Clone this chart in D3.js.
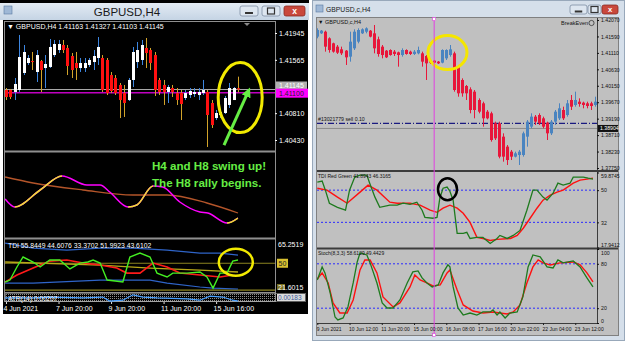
<!DOCTYPE html>
<html>
<head>
<meta charset="utf-8">
<script src="https://cdn.jsdelivr.net/npm/d3@7"></script>
<style>
  body { margin: 0; background: #fff; }
  svg { display: block; font-family: "Liberation Sans", Arial, sans-serif; }
</style>
</head>
<body>
<svg id="chart" width="625" height="341"></svg>
<script>
// ---------- left chart (GBPUSD,H4 black) ----------
// [open, high, low, close]
const leftOHLC = [
  [1.41138,1.41166,1.40996,1.41039],[1.41138,1.41152,1.41010,1.41039],[1.41110,1.41308,1.40996,1.41223],
  [1.41138,1.41917,1.41110,1.41605],[1.41379,1.41775,1.41350,1.41676],[1.41520,1.41633,1.41492,1.41591],
  [1.41548,1.41676,1.41421,1.41534],[1.41393,1.41704,1.41251,1.41633],[1.41548,1.41563,1.41110,1.41421],
  [1.41449,1.41633,1.41166,1.41506],[1.41464,1.41860,1.41449,1.41747],[1.41633,1.41846,1.41605,1.41789],
  [1.41704,1.41846,1.41662,1.41789],[1.41775,1.41846,1.41662,1.41704],[1.41733,1.41775,1.41350,1.41478],
  [1.41619,1.41662,1.41308,1.41421],[1.41520,1.41676,1.41280,1.41449],[1.41449,1.41591,1.41393,1.41520],
  [1.41449,1.41591,1.41393,1.41520],[1.41492,1.41591,1.41464,1.41563],[1.41534,1.41704,1.41421,1.41619],
  [1.41591,1.41888,1.41492,1.41747],[1.41591,1.41633,1.41110,1.41138],[1.41563,1.41591,1.41067,1.41095],
  [1.41350,1.41393,1.41095,1.41124],[1.41308,1.41350,1.41067,1.41095],[1.41209,1.41237,1.40741,1.40996],
  [1.41095,1.41209,1.40756,1.40954],[1.40996,1.41308,1.40982,1.41280],[1.41280,1.41747,1.41180,1.41676],
  [1.41534,1.41818,1.41449,1.41704],[1.41563,1.41846,1.41492,1.41775],[1.41733,1.41874,1.41449,1.41662],
  [1.41704,1.41733,1.41421,1.41520],[1.41633,1.41676,1.41053,1.41138],[1.41280,1.41308,1.41067,1.41110],
  [1.41209,1.41280,1.40926,1.41110],[1.41110,1.41209,1.40954,1.41180],[1.41166,1.41209,1.41039,1.41110],
  [1.41095,1.41166,1.40926,1.40996],[1.41095,1.41138,1.40713,1.40940],[1.41025,1.41138,1.40996,1.41095],
  [1.41067,1.41166,1.41025,1.41124],[1.41081,1.41166,1.41039,1.41110],[1.41067,1.41166,1.40996,1.41110],
  [1.41095,1.41280,1.41067,1.41138],[1.41110,1.41138,1.40331,1.40784],[1.40954,1.40996,1.40600,1.40642],
  [1.40741,1.40855,1.40713,1.40812],[1.40784,1.40855,1.40741,1.40826],[1.40812,1.41053,1.40798,1.41025],
  [1.40926,1.41237,1.40883,1.41166],[1.40996,1.41180,1.40996,1.41166],[1.41163,1.41327,1.41103,1.41145]
];
const leftPriceTicks = [1.41945, 1.41565, 1.40810, 1.40430];
const leftBid = 1.41145;
const leftLevel = 1.41100;
const leftDateIdx = [0, 12, 24, 36, 48];
const leftDateText = ["4 Jun 2021", "7 Jun 20:00", "9 Jun 20:00", "11 Jun 20:00", "15 Jun 16:00"];

// swing oscillator pane: [bar index, value]
const leftFast = [[-0.2,-4],[2,-12],[7.8,5],[12.8,19],[18.5,10],[21.5,10],[23.7,3],[27.9,-12],[29.9,-10],
  [33.6,9],[35.8,8],[39.7,-7],[44.3,-17],[46.1,-18],[50.5,-28],[53,-23]];
const leftSlow = [[-0.2,18],[6.2,12],[17.6,5],[29,0],[36.8,0],[45.9,-8],[53,-18]];

// TDI pane
const leftTdiUpper = [[-0.2,61.3],[6.2,58.5],[13.9,57.4],[21.5,58.5],[29,58.5],[36.8,57.4],[44.3,55.7],[48.9,55.7],[53,54.6]];
const leftTdiLower = [[-0.2,38.9],[6.2,38.9],[21.5,40.6],[32.9,40.6],[36.8,38.9],[44.3,36.7],[47.3,36.1],[53,35.6]];
const leftTdiMid = [[-0.2,50.7],[21.5,49.0],[32.9,47.3],[44.3,46.2],[53,45.1]];
const leftTdiSignal = [[-0.2,39.5],[2.5,43.4],[6.2,47.3],[10,51.2],[13.9,51.8],[17.6,50.1],[21.5,49.0],[25.3,47.3],
  [27.6,44.5],[30.6,44.5],[33.6,50.1],[36.8,47.9],[39.7,44.5],[44.3,43.4],[48.9,42.3],[51.8,43.4]];
const leftTdiRsi = [[-0.2,39.5],[0.9,40.6],[2.5,47.9],[3.9,53.5],[6.2,50.7],[7.8,47.9],[10,51.8],[12.3,51.8],
  [14.6,46.8],[16.9,50.1],[18.7,50.7],[19.9,51.8],[21.5,50.1],[23.1,40.6],[26.7,39.5],[28.3,53.5],[30.6,55.7],
  [32.9,53.5],[34.5,44.5],[36.8,42.3],[38.1,44.5],[41.3,44.5],[44.3,45.1],[45.9,42.3],[47.3,36.1],[48.9,44.5],
  [50.5,44.5],[51.8,51.2],[53,51.8]];
const leftTdiLevels = [50, 35];
const leftAtr = [[-0.2,0.0024],[6.2,0.0024],[10,0.0026],[17.6,0.0024],[22.1,0.0026],[23.7,0.0017],[26.7,0.0019],
  [29,0.0031],[31.3,0.0026],[34.5,0.0024],[41.3,0.0022],[44.3,0.0019],[46.6,0.0028],[49.5,0.0026],[51.8,0.0019],[53,0.0017]];

// ---------- right chart (GBPUSD,c,H4 grey) ----------
const rightOHLC = [
  [1.41584,1.41827,1.41535,1.41778],[1.41681,1.41778,1.41662,1.41759],[1.41729,1.41759,1.41146,1.41292],
  [1.41535,1.41564,1.41116,1.41194],[1.41389,1.41408,1.41116,1.41146],[1.41292,1.41340,1.41078,1.41116],
  [1.41214,1.41292,1.41048,1.41097],[1.41175,1.41194,1.40757,1.40980],[1.41000,1.41729,1.40854,1.41438],
  [1.41243,1.41798,1.41194,1.41729],[1.41438,1.41827,1.41389,1.41778],[1.41681,1.41827,1.41662,1.41798],
  [1.41729,1.41856,1.41681,1.41827],[1.41759,1.41778,1.41564,1.41584],[1.41681,1.41924,1.41097,1.41243],
  [1.41506,1.41584,1.41000,1.41078],[1.41292,1.41340,1.40951,1.41048],[1.41175,1.41194,1.40960,1.40980],
  [1.41194,1.41214,1.41030,1.41048],[1.41146,1.41194,1.41019,1.41078],[1.41126,1.41146,1.40708,1.41048],
  [1.41048,1.41243,1.41000,1.41194],[1.41194,1.41214,1.41058,1.41078],[1.41146,1.41175,1.41048,1.41078],
  [1.41078,1.41194,1.41048,1.41146],[1.41097,1.41292,1.41068,1.41194],[1.41097,1.41146,1.40708,1.40854],
  [1.41019,1.41048,1.40319,1.40805],[1.40902,1.40922,1.40786,1.40825],[1.40883,1.40902,1.40815,1.40825],
  [1.40854,1.40873,1.40786,1.40805],[1.40825,1.41214,1.40805,1.41194],[1.40951,1.41214,1.40902,1.41194],
  [1.41048,1.41340,1.41000,1.41214],[1.41097,1.41146,1.39978,1.40027],[1.40708,1.40757,1.39832,1.39930],
  [1.40319,1.40367,1.39832,1.39930],[1.40144,1.40173,1.39735,1.39930],[1.40046,1.40105,1.39346,1.39443],
  [1.39978,1.40027,1.39200,1.39443],[1.39735,1.39783,1.39346,1.39394],[1.39638,1.39686,1.38957,1.39200],
  [1.39394,1.39443,1.39170,1.39200],[1.39346,1.39394,1.38519,1.38567],[1.39054,1.39103,1.38567,1.38616],
  [1.39054,1.39103,1.38032,1.38081],[1.38665,1.38762,1.37935,1.38081],[1.38373,1.38421,1.37838,1.37983],
  [1.38227,1.38276,1.37983,1.38081],[1.38081,1.38227,1.38060,1.38178],[1.38129,1.38276,1.37838,1.38227],
  [1.38129,1.38811,1.38081,1.38762],[1.38665,1.39151,1.38373,1.39103],[1.38957,1.39346,1.38908,1.39249],
  [1.39249,1.39297,1.39005,1.39103],[1.39297,1.39346,1.39005,1.39054],[1.39200,1.39249,1.38908,1.38957],
  [1.39073,1.39103,1.38567,1.38762],[1.38762,1.39151,1.38713,1.39103],[1.39103,1.39443,1.39005,1.39394],
  [1.39200,1.39638,1.39151,1.39492],[1.39443,1.39540,1.39151,1.39200],[1.39297,1.39735,1.39249,1.39638],
  [1.39735,1.39881,1.39443,1.39540],[1.39589,1.39978,1.39540,1.39735],[1.39686,1.39783,1.39540,1.39618],
  [1.39657,1.39686,1.39492,1.39589],[1.39638,1.39686,1.39492,1.39560],[1.39638,1.39686,1.39443,1.39560],
  [1.39589,1.39832,1.39540,1.39686]
];
const rightPriceTicks = [1.42070, 1.41590, 1.41110, 1.40630, 1.40150, 1.39670, 1.39190, 1.38710, 1.38230, 1.37750];
const rightBid = 1.38904;
const rightOrder = 1.39055;
const rightMarkerBar = 29;
const rightDateIdx = [0, 8, 16, 24, 32, 40, 48, 56, 64];
const rightDateText = ["9 Jun 2021", "10 Jun 12:00", "11 Jun 20:00", "15 Jun 00:00", "16 Jun 08:00",
  "17 Jun 16:00", "20 Jun 22:00", "22 Jun 04:00", "23 Jun 12:00"];

const rightTdiGreen = [[0,54.5],[1.2,55.1],[2,50],[3,42.7],[5,40.4],[7,38.8],[8,50],[9.3,57.3],[10.6,58.4],
  [12.3,58.4],[13,53.9],[14.3,46.1],[15.5,40.4],[18,41.6],[19.8,41.6],[21.3,42.7],[23,42.1],[24.7,43.3],
  [26,38.8],[26.7,34.8],[28.7,34.3],[29.7,34.8],[30.4,45.5],[31.2,51.1],[32.2,51.7],[32.9,49.4],[33.7,44.4],
  [34.7,25.8],[36.2,25.8],[37.1,26.4],[37.9,23.0],[39.6,23.6],[41.1,23.6],[42.9,20.2],[44.6,23.0],[45.3,24.7],
  [47.1,23.0],[48.6,24.7],[50.3,27.5],[52,38.8],[53.5,50],[54.5,50],[56,46.1],[57,44.4],[58.5,48.3],
  [59.7,53.9],[61,52.8],[62.7,53.9],[63.5,57.3],[66,57.3],[67.2,56.7],[68.4,56.2]];
const rightTdiRed = [[0,51.1],[2.4,50],[5,46.1],[7.4,42.7],[10.6,48.9],[12.6,52.8],[14.8,50],[18,43.3],
  [19.8,42.7],[23,42.7],[25.5,41.6],[28,38.8],[29.7,37.6],[31.2,39.9],[32.9,41.6],[34.7,39.9],[36.2,37.1],
  [37.9,32],[39.6,23.6],[41.1,23.0],[42.9,21.9],[44.6,22.5],[47.9,23.0],[49.6,24.7],[51.1,28.7],[52.8,34.3],
  [54.5,39.9],[56,44.4],[57.8,47.2],[59.5,48.9],[61,50],[63.5,53.9],[65.2,55.6],[66.9,56.2],[68.4,56.7]];
const rightTdiLevels = [50, 32];
const rightTdiTicks = [59.8745, 50, 32, 17.9412];
const rightTdiLabels = ["59.8745", "50", "32", "17.9412"];

const rightStochMain = [[0,58.2],[1.2,75.8],[1.9,67.7],[3.2,40.6],[4.4,8.1],[5.1,4.1],[6.4,6.8],[7.6,21.7],
  [8.9,54.1],[9.9,82.5],[10.6,94.7],[12.3,92],[13.1,81.2],[14.8,54.1],[16.1,27.1],[17.3,20.3],[18.8,20.3],
  [20.5,31.1],[22.3,54.1],[23.7,69],[25,70.4],[26,60.9],[27.2,54.1],[28.5,48.7],[30,51.4],[31.2,67.7],
  [32.4,78.5],[32.9,75.8],[33.7,48.7],[34.9,20.3],[36.2,10.8],[37.9,13.5],[39.6,10.8],[41.1,14.9],[42.9,14.9],
  [43.6,17.6],[44.6,10.8],[45.3,14.9],[46.6,6.8],[47.8,13.5],[49.6,14.9],[51,35.2],[52.3,75.8],[53.5,92],
  [55.3,89.3],[57,75.8],[58.5,74.4],[59.7,85.2],[61,81.2],[63.5,83.9],[65.2,75.8],[66.9,60.9],[68.4,48.7]];
const rightStochSignal = [[0,59.5],[1.2,67.7],[2.7,54.1],[3.9,27.1],[5.6,13.5],[7.4,13.5],[8.9,31.1],
  [10.6,71.7],[11.8,85.2],[13.1,85.2],[14.8,67.7],[16.3,35.2],[18.8,21.7],[20.5,27.1],[23,48.7],[24.2,65],
  [25.5,58.2],[27.2,54.1],[28.7,50.1],[30.5,51.4],[32.2,67.7],[32.9,71.7],[34.7,44.7],[36.2,24.4],
  [38.6,16.2],[41.1,13.5],[43.6,14.9],[45.3,13.5],[47.1,12.2],[48.6,14.9],[50.3,24.4],[52,54.1],[53.5,75.8],
  [54.8,85.2],[56,81.2],[57.8,78.5],[60.2,81.2],[63.5,82.5],[65.2,78.5],[66.9,67.7],[68.4,55.5]];
const rightStochLevels = [80, 20];
const rightStochTicks = [100, 80, 20, 0];

// ---------- drawing ----------
const svg = d3.select("#chart");
const fontSmall = "'Liberation Sans', Arial, sans-serif";

const defs = svg.append("defs");
const tg = defs.append("linearGradient").attr("id", "titleGrad").attr("x1", 0).attr("y1", 0).attr("x2", 0).attr("y2", 1);
tg.append("stop").attr("offset", "0%").attr("stop-color", "#e3ebf4");
tg.append("stop").attr("offset", "100%").attr("stop-color", "#c5d4e4");
const dots = defs.append("pattern").attr("id", "dots").attr("width", 2).attr("height", 2).attr("patternUnits", "userSpaceOnUse");
dots.append("rect").attr("width", 1).attr("height", 1).attr("fill", "#8a8a8a");

function clip(id, x, y, w, h) {
  defs.append("clipPath").attr("id", id).append("rect").attr("x", x).attr("y", y).attr("width", w).attr("height", h);
  return "url(#" + id + ")";
}

function windowButtons(g, x, y, sizes) {
  let cx = x;
  sizes.w.forEach((w, k) => {
    g.append("rect").attr("x", cx).attr("y", y).attr("width", w).attr("height", sizes.h).attr("rx", 2)
      .attr("fill", k === 2 ? "#c9483c" : "#dde6f0").attr("stroke", k === 2 ? "#8a2a22" : "#7d8ea3").attr("stroke-width", 0.8);
    const mx = cx + w / 2, my = y + sizes.h / 2;
    if (k === 0) g.append("rect").attr("x", mx - w * 0.22).attr("y", my + 1).attr("width", w * 0.44).attr("height", 2).attr("fill", "#333");
    if (k === 1) g.append("rect").attr("x", mx - 3.5).attr("y", my - 3).attr("width", 7).attr("height", 6).attr("fill", "none").attr("stroke", "#333").attr("stroke-width", 1.2);
    if (k === 2) g.append("text").attr("x", mx).attr("y", my + sizes.h * 0.32).attr("text-anchor", "middle")
      .attr("fill", "#fff").attr("font-weight", "bold").attr("font-size", sizes.h * 0.85).text("x");
    cx += w + sizes.gap;
  });
}

function drawCandles(g, data, x, y, st) {
  const c = g.selectAll(null).data(data).join("g");
  c.append("line")
    .attr("x1", (d, i) => Math.round(x(i)) + 0.5).attr("x2", (d, i) => Math.round(x(i)) + 0.5)
    .attr("y1", d => y(d[1])).attr("y2", d => y(d[2]))
    .attr("stroke", d => d[3] >= d[0] ? st.bullWick : st.bearWick).attr("stroke-width", 1);
  c.append("rect")
    .attr("x", (d, i) => Math.round(x(i)) - 1).attr("width", 3)
    .attr("y", d => y(Math.max(d[0], d[3])))
    .attr("height", d => Math.max(1, Math.abs(y(d[0]) - y(d[3]))))
    .attr("fill", d => d[3] >= d[0] ? st.bull : st.bear);
}

function linePath(g, data, x, y, color, width, curve) {
  g.append("path").datum(data)
    .attr("d", d3.line().x(d => x(d[0])).y(d => y(d[1])).curve(curve || d3.curveLinear))
    .attr("fill", "none").attr("stroke", color).attr("stroke-width", width || 1.2);
}

function valueAxis(g, scale, ticks, fmt, color, size) {
  g.call(d3.axisRight(scale).tickValues(ticks).tickFormat(fmt).tickSize(2).tickPadding(2));
  g.select(".domain").remove();
  g.selectAll("line").attr("stroke", color);
  g.selectAll("text").attr("fill", color).style("font-size", size + "px").style("font-family", fontSmall);
  return g;
}

// ===== LEFT WINDOW =====
const L = svg.append("g");
L.append("rect").attr("x", 0).attr("y", 0).attr("width", 309).attr("height", 3).attr("fill", "#000");
L.append("rect").attr("x", 0).attr("y", 3).attr("width", 309).attr("height", 17).attr("fill", "url(#titleGrad)");
L.append("rect").attr("x", 4).attr("y", 6).attr("width", 8).attr("height", 8).attr("fill", "#9fb8d6").attr("stroke", "#5a7aa0").attr("stroke-width", 0.6);
L.append("text").attr("x", 127).attr("y", 15.5).attr("text-anchor", "middle").attr("font-size", 11.5).attr("fill", "#1a1a1a").text("GBPUSD,H4");
windowButtons(L, 240, 6, { w: [18, 18, 21], h: 10, gap: 4 });
L.append("rect").attr("x", 3).attr("y", 20).attr("width", 305).attr("height", 294).attr("fill", "#000");

const lx = d3.scaleLinear().domain([0, 53]).range([6, 238]);
const ly = d3.scaleLinear().domain([1.40430, 1.41945]).range([140, 33]);
const lwy = d3.scaleLinear().domain([-43, 43]).range([238, 152]);
const lty = d3.scaleLinear().domain([21.6015, 65.2519]).range([314, 236]);
const lay = d3.scaleLinear().domain([0.0015, 0.0035]).range([302, 293]);

// pane borders
const lb = L.append("g").attr("stroke", "#8f8f8f");
lb.append("rect").attr("x", 4.5).attr("y", 21.5).attr("width", 271).attr("height", 280).attr("fill", "none");
[151.5, 238.5].forEach(yy => lb.append("line").attr("x1", 4).attr("x2", 276).attr("y1", yy).attr("y2", yy).attr("stroke-width", 2));
lb.append("line").attr("x1", 4).attr("x2", 276).attr("y1", 292.5).attr("y2", 292.5);

// main price pane
const lMain = L.append("g").attr("clip-path", clip("lmain", 5, 22, 270, 129));
lMain.append("line").attr("x1", 5).attr("x2", 275).attr("y1", ly(leftBid)).attr("y2", ly(leftBid)).attr("stroke", "#a8a8a8");
lMain.append("line").attr("x1", 5).attr("x2", 275).attr("y1", ly(leftLevel)).attr("y2", ly(leftLevel)).attr("stroke", "#c000c0").attr("stroke-width", 1.6);
drawCandles(lMain, leftOHLC, lx, ly, { bull: "#ffffff", bear: "#ff1010", bullWick: "#3d86e0", bearWick: "#d2a32a" });
L.append("text").attr("x", 7).attr("y", 29).attr("font-size", 7).attr("fill", "#fff")
  .text("\u25BC GBPUSD,H4  1.41163 1.41327 1.41103 1.41145");
L.append("path").attr("d", "M244,23 L250,23 L247,26 Z").attr("fill", "#8a8a8a");

valueAxis(L.append("g").attr("transform", "translate(275,0)"), ly, leftPriceTicks, d3.format(".5f"), "#fff", 7);
L.append("rect").attr("x", 276).attr("y", ly(leftBid) - 8).attr("width", 31).attr("height", 8).attr("fill", "#b0b0b0");
L.append("text").attr("x", 279).attr("y", ly(leftBid) - 1.5).attr("font-size", 7).attr("fill", "#fff").text(d3.format(".5f")(leftBid));
L.append("rect").attr("x", 276).attr("y", ly(leftLevel) - 4).attr("width", 32).attr("height", 9).attr("fill", "#ff00ff");
L.append("text").attr("x", 279).attr("y", ly(leftLevel) + 3).attr("font-size", 7).attr("fill", "#222").text(d3.format(".5f")(leftLevel));

// annotation: ellipse + arrow
L.append("ellipse").attr("cx", lx(53.5)).attr("cy", ly(1.4103)).attr("rx", 22).attr("ry", 35)
  .attr("fill", "none").attr("stroke", "#f2ea00").attr("stroke-width", 3);
defs.append("marker").attr("id", "ah").attr("viewBox", "0 0 10 10").attr("refX", 5).attr("refY", 5)
  .attr("markerWidth", 3.2).attr("markerHeight", 3.2).attr("orient", "auto")
  .append("path").attr("d", "M0,0 L10,5 L0,10 Z").attr("fill", "#66ee44");
L.append("line").attr("x1", lx(49.8)).attr("y1", ly(1.40359)).attr("x2", lx(55.3)).attr("y2", ly(1.41110))
  .attr("stroke", "#66ee44").attr("stroke-width", 3).attr("marker-end", "url(#ah)");

// swing oscillator pane
const lWave = L.append("g").attr("clip-path", clip("lwave", 5, 153, 270, 84));
linePath(lWave, leftSlow, lx, lwy, "#b4552a", 1.3, d3.curveMonotoneX);
linePath(lWave, leftFast, lx, lwy, "#ff00ff", 1.5, d3.curveMonotoneX);
const riseClip = defs.append("clipPath").attr("id", "rise");
leftFast.forEach((p, k) => {
  const n = leftFast[k + 1];
  if (n && n[1] > p[1]) riseClip.append("rect").attr("x", lx(p[0])).attr("y", 150).attr("width", lx(n[0]) - lx(p[0])).attr("height", 90);
});
lWave.append("g").attr("clip-path", "url(#rise)").call(g => linePath(g, leftFast, lx, lwy, "#f0e030", 1.5, d3.curveMonotoneX));
L.append("text").attr("x", 152).attr("y", 170).attr("font-size", 11.6).attr("font-weight", "bold").attr("fill", "#66ee44").text("H4 and H8 swing up!");
L.append("text").attr("x", 152).attr("y", 187).attr("font-size", 11.6).attr("font-weight", "bold").attr("fill", "#66ee44").text("The H8 rally begins.");

// TDI pane
const lTdi = L.append("g").attr("clip-path", clip("ltdi", 5, 240, 270, 52));
leftTdiLevels.forEach(v => lTdi.append("line").attr("x1", 5).attr("x2", 275).attr("y1", lty(v)).attr("y2", lty(v)).attr("stroke", "#8c8420").attr("stroke-width", 1.2));
linePath(lTdi, leftTdiMid, lx, lty, "#b8a818", 1.3);
linePath(lTdi, leftTdiUpper, lx, lty, "#2f64c8", 1.2);
linePath(lTdi, leftTdiLower, lx, lty, "#2f64c8", 1.2);
linePath(lTdi, leftTdiSignal, lx, lty, "#ff1a1a", 1.6);
linePath(lTdi, leftTdiRsi, lx, lty, "#44ee22", 1.4);
L.append("text").attr("x", 8).attr("y", 248).attr("font-size", 6.8).attr("fill", "#fff")
  .text("TDI 55.8449 44.6076 33.3702 51.9923 43.6102");
L.append("ellipse").attr("cx", lx(52.5)).attr("cy", lty(50.6)).attr("rx", 17).attr("ry", 13.5)
  .attr("fill", "none").attr("stroke", "#f2ea00").attr("stroke-width", 2.5);
L.append("text").attr("x", 278).attr("y", 247).attr("font-size", 7).attr("fill", "#fff").text("65.2519");
L.append("rect").attr("x", 277).attr("y", lty(50) - 4.5).attr("width", 11).attr("height", 9).attr("fill", "#d8c030");
L.append("text").attr("x", 278.5).attr("y", lty(50) + 3).attr("font-size", 7).attr("fill", "#222").text("50");
L.append("rect").attr("x", 277).attr("y", 284).attr("width", 8).attr("height", 6).attr("fill", "#7a7020");
L.append("text").attr("x", 278).attr("y", 290).attr("font-size", 7).attr("fill", "#fff").text("21.6015");

// ATR pane
L.append("rect").attr("x", 5).attr("y", 293).attr("width", 270).attr("height", 9).attr("fill", "url(#dots)");
L.append("rect").attr("x", 5.5).attr("y", 293.5).attr("width", 300).attr("height", 8).attr("fill", "none")
  .attr("stroke", "#bbb").attr("stroke-dasharray", "1,1");
const lAtr = L.append("g").attr("clip-path", clip("latr", 5, 293, 270, 9));
linePath(lAtr, leftAtr, lx, lay, "#4aa0ff", 1.2);
L.append("text").attr("x", 8).attr("y", 300.5).attr("font-size", 6.5).attr("fill", "#fff").text("ATR(14) 0.00207");
L.append("rect").attr("x", 277).attr("y", 294).attr("width", 28).attr("height", 7).attr("fill", "#dcdcdc");
L.append("text").attr("x", 278).attr("y", 300).attr("font-size", 6.5).attr("fill", "#3a5a9a").text("0.00183");

// date axis
const lDate = L.append("g").attr("transform", "translate(0,302)");
lDate.call(d3.axisBottom(lx).tickValues(leftDateIdx).tickFormat((d, i) => leftDateText[i]).tickSize(2).tickPadding(2));
lDate.select(".domain").remove();
lDate.selectAll("line").attr("stroke", "#ddd");
lDate.selectAll("text").attr("fill", "#fff").attr("text-anchor", "start").attr("dx", -3)
  .style("font-size", "7px").style("font-family", fontSmall);

// ===== RIGHT WINDOW =====
const R = svg.append("g");
R.append("rect").attr("x", 312).attr("y", 0).attr("width", 313).attr("height", 341).attr("fill", "#d5dfea");
R.append("rect").attr("x", 312.5).attr("y", 0.5).attr("width", 312).attr("height", 340).attr("fill", "none").attr("stroke", "#98a8ba");
R.append("rect").attr("x", 316).attr("y", 5).attr("width", 7).attr("height", 7).attr("fill", "#9fb8d6").attr("stroke", "#5a7aa0").attr("stroke-width", 0.6);
R.append("text").attr("x", 326).attr("y", 12).attr("font-size", 6.8).attr("fill", "#1a1a1a").text("GBPUSD,c,H4");
windowButtons(R, 570, 5, { w: [17, 13, 16], h: 9, gap: 1 });
R.append("rect").attr("x", 316.5).attr("y", 17.5).attr("width", 302).attr("height", 318).attr("fill", "#c0c0c0").attr("stroke", "#808080");

const rx = d3.scaleLinear().domain([0, 69]).range([317.3, 595.4]);
const ry = d3.scaleLinear().domain([1.37750, 1.42070]).range([168, 20]);
const rty = d3.scaleLinear().domain([17.9412, 59.8745]).range([247.5, 172.5]);
const rsy = d3.scaleLinear().domain([0, 100]).range([323, 249]);

const rb = R.append("g").attr("stroke", "#3c3c3c");
rb.append("line").attr("x1", 597.5).attr("x2", 597.5).attr("y1", 18).attr("y2", 323);
[171, 248.5].forEach(yy => rb.append("line").attr("x1", 317).attr("x2", 618).attr("y1", yy).attr("y2", yy).attr("stroke-width", 2));
rb.append("line").attr("x1", 317).attr("x2", 598).attr("y1", 323.5).attr("y2", 323.5);

// main
const rMain = R.append("g").attr("clip-path", clip("rmain", 317, 18, 280, 152));
rMain.append("line").attr("x1", 317).attr("x2", 597).attr("y1", ry(rightBid)).attr("y2", ry(rightBid)).attr("stroke", "#8c8c8c");
rMain.append("line").attr("x1", 317).attr("x2", 597).attr("y1", ry(rightOrder)).attr("y2", ry(rightOrder))
  .attr("stroke", "#1a1a80").attr("stroke-width", 1.2).attr("stroke-dasharray", "6,2,1,2");
drawCandles(rMain, rightOHLC, rx, ry, { bull: "#4a84c0", bear: "#e8163a", bullWick: "#4a84c0", bearWick: "#e8163a" });
R.append("text").attr("x", 318).attr("y", ry(rightOrder) - 2).attr("font-size", 5.2).attr("fill", "#111").text("#13021779 sell 0.10");
R.append("text").attr("x", 318).attr("y", 24).attr("font-size", 5.5).attr("fill", "#111").text("\u25BC GBPUSD,c,H4");
R.append("text").attr("x", 588).attr("y", 25).attr("text-anchor", "end").attr("font-size", 5.5).attr("fill", "#111").text("BreakEven");
R.append("circle").attr("cx", 591.5).attr("cy", 23).attr("r", 2.6).attr("fill", "none").attr("stroke", "#222").attr("stroke-width", 0.7);
R.append("ellipse").attr("cx", rx(32.3)).attr("cy", ry(1.4112)).attr("rx", 19.5).attr("ry", 17)
  .attr("fill", "none").attr("stroke", "#f5e600").attr("stroke-width", 3);

valueAxis(R.append("g").attr("transform", "translate(597,0)"), ry, rightPriceTicks, d3.format(".5f"), "#111", 5.2);
R.append("rect").attr("x", 598).attr("y", ry(rightBid) - 3.5).attr("width", 20).attr("height", 7).attr("fill", "#111");
R.append("text").attr("x", 600).attr("y", ry(rightBid) + 2).attr("font-size", 5.2).attr("fill", "#fff").text(d3.format(".5f")(rightBid));

// TDI Red Green
const rTdi = R.append("g").attr("clip-path", clip("rtdi", 317, 172, 280, 76));
rightTdiLevels.forEach(v => rTdi.append("line").attr("x1", 317).attr("x2", 597).attr("y1", rty(v)).attr("y2", rty(v))
  .attr("stroke", "#2a2aff").attr("stroke-dasharray", "2,2"));
linePath(rTdi, rightTdiRed, rx, rty, "#ff1010", 1.4);
linePath(rTdi, rightTdiGreen, rx, rty, "#1e7a1e", 1.3);
R.append("text").attr("x", 318).attr("y", 178).attr("font-size", 5).attr("fill", "#111").text("TDI Red Green 41.8943 46.3165");
const rTdiAx = valueAxis(R.append("g").attr("transform", "translate(597,0)"), rty, rightTdiTicks, (d, i) => rightTdiLabels[i], "#111", 5.2);
// keep the edge labels inside the pane
rTdiAx.selectAll(".tick text").attr("dy", (d, i) => i === 0 ? "0.9em" : i === 3 ? "-0.1em" : "0.32em");
R.append("ellipse").attr("cx", rx(32.3)).attr("cy", rty(50.5)).attr("rx", 9.5).attr("ry", 11)
  .attr("fill", "none").attr("stroke", "#000").attr("stroke-width", 2.5);

// Stochastic
const rSto = R.append("g").attr("clip-path", clip("rsto", 317, 249, 280, 74));
rightStochLevels.forEach(v => rSto.append("line").attr("x1", 317).attr("x2", 597).attr("y1", rsy(v)).attr("y2", rsy(v))
  .attr("stroke", "#2a2aff").attr("stroke-dasharray", "2,2"));
linePath(rSto, rightStochSignal, rx, rsy, "#ff1010", 1.4);
linePath(rSto, rightStochMain, rx, rsy, "#1e7a1e", 1.3);
R.append("text").attr("x", 318).attr("y", 255).attr("font-size", 5).attr("fill", "#111").text("Stoch(8,3,3) 58.6129 49.4429");
const rStoAx = valueAxis(R.append("g").attr("transform", "translate(597,0)"), rsy, rightStochTicks, d3.format("d"), "#111", 5.2);
rStoAx.selectAll(".tick text").attr("dy", (d, i) => i === 0 ? "1.1em" : i === 3 ? "-0.1em" : "0.32em");

// marker vertical line
R.append("line").attr("x1", rx(rightMarkerBar)).attr("x2", rx(rightMarkerBar)).attr("y1", 19).attr("y2", 335)
  .attr("stroke", "#e040e0").attr("stroke-width", 1);
[19, 335].forEach(yy => R.append("rect").attr("x", rx(rightMarkerBar) - 1.5).attr("y", yy - 1.5).attr("width", 3).attr("height", 3)
  .attr("fill", "#fff").attr("stroke", "#e040e0").attr("stroke-width", 0.6));

// date axis
const rDate = R.append("g").attr("transform", "translate(0,323)");
rDate.call(d3.axisBottom(rx).tickValues(rightDateIdx).tickFormat((d, i) => rightDateText[i]).tickSize(2).tickPadding(2));
rDate.select(".domain").remove();
rDate.selectAll("line").attr("stroke", "#222");
rDate.selectAll("text").attr("fill", "#111").attr("text-anchor", "start").attr("dx", -1)
  .style("font-size", "5px").style("font-family", fontSmall);
</script>
</body>
</html>
